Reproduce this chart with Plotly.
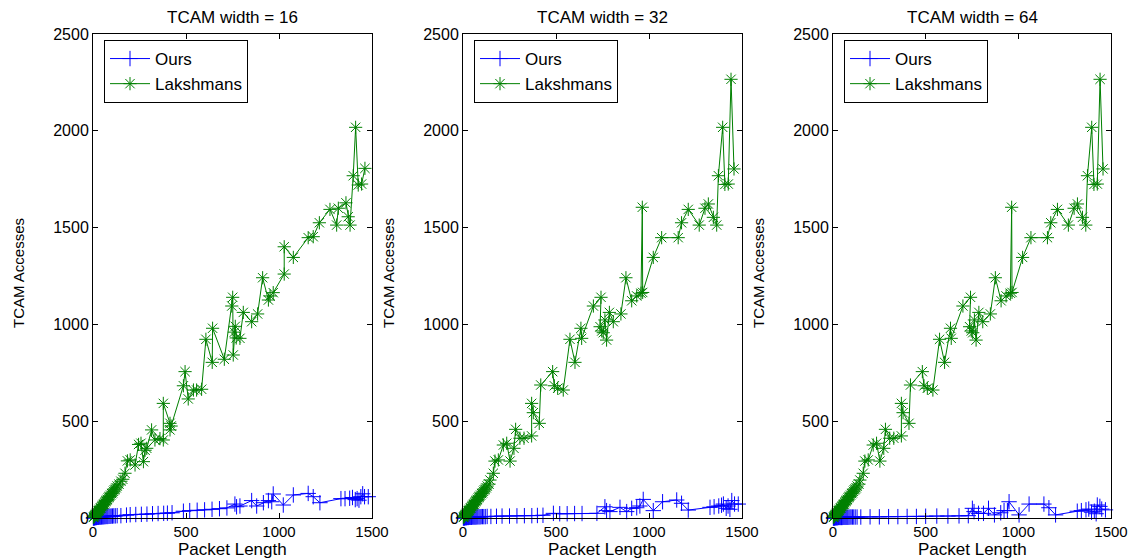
import plotly.graph_objects as go

# ---------------- data ----------------
widths = [16, 32, 64]
x_ticks = [0, 500, 1000, 1500]
y_ticks = [0, 500, 1000, 1500, 2000, 2500]

# Panel 1 (TCAM width = 16)
lak16_x = [2, 5, 8, 10, 12, 15, 18, 20, 22, 25, 28, 30, 33, 36, 40, 43, 46, 50, 53, 56, 60, 63, 66, 70,
           74, 78, 82, 86, 90, 95, 100, 105, 110, 115, 120, 125, 130, 140, 150, 160,
           172, 185, 200, 226, 245, 258, 271, 280, 289, 315, 333, 360, 378, 378, 414, 414, 420,
           486, 495, 512, 540, 557, 584, 607, 641, 643, 706, 746, 751, 754, 760, 765, 770, 790,
           808, 853, 885, 912, 943, 952, 969, 1028, 1028, 1077, 1157, 1184, 1217, 1274, 1310,
           1319, 1360, 1372, 1382, 1399, 1412, 1426, 1444, 1462]
lak16_y = [3, 6, 10, 12, 16, 18, 22, 25, 28, 30, 35, 38, 40, 45, 50, 52, 58, 62, 66, 70, 72, 78, 84, 88,
           92, 96, 104, 108, 112, 118, 126, 130, 138, 145, 150, 156, 165, 175, 190, 200,
           231, 295, 300, 274, 380, 386, 291, 350, 360, 455, 403, 410, 403, 592, 489, 455, 475,
           683, 756, 615, 661, 661, 665, 923, 804, 980, 820, 1095, 1140, 842, 960, 990, 930, 928,
           1062, 1014, 1054, 1241, 1126, 1147, 1164, 1260, 1401, 1346, 1448, 1453, 1525, 1594, 1513,
           1600, 1628, 1556, 1513, 1768, 2018, 1720, 1725, 1806]
ours16_x = [2, 4, 6, 8, 10, 12, 15, 18, 20, 23, 26, 30, 34, 38, 42, 46, 50, 55, 60, 65, 70, 75, 80,
            86, 92, 98, 105, 112, 120, 130, 150, 180, 200, 230, 260, 290, 320, 350, 380, 400, 425,
            486, 520, 560, 600, 640, 680, 720, 763, 772, 790, 853, 880, 916, 943, 961, 969, 1023,
            1077, 1157, 1184, 1220, 1333, 1355, 1380, 1395, 1410, 1420, 1430, 1440, 1450, 1460, 1480]
ours16_y = [0, 1, 1, 2, 2, 2, 3, 3, 3, 4, 4, 4, 5, 5, 5, 6, 6, 6, 7, 7, 8, 8, 8,
            9, 9, 10, 10, 11, 11, 12, 12, 15, 17, 18, 19, 20, 22, 23, 24, 25, 27,
            35, 38, 40, 42, 45, 48, 52, 72, 58, 62, 90, 62, 79, 90, 84, 124, 67,
            119, 127, 110, 79, 100, 100, 102, 106, 95, 100, 92, 110, 125, 110, 110]

# Panels 2 and 3 (TCAM width = 32, 64)
lak_x = [2, 5, 8, 10, 12, 15, 18, 20, 22, 25, 28, 30, 33, 36, 40, 43, 46, 50, 53, 56, 60, 63, 66, 70,
         74, 78, 82, 86, 90, 95, 100, 105, 110, 115, 120, 125, 130, 140, 145,
         163, 172, 190, 217, 235, 253, 274, 283, 306, 328, 369, 369, 378, 410, 418, 482, 491, 509,
         539, 575, 602, 634, 638, 701, 742, 737, 746, 754, 763, 772, 787, 808, 849, 876, 907, 934,
         957, 964, 966, 1023, 1068, 1157, 1175, 1211, 1270, 1301, 1319, 1346, 1364, 1373, 1396,
         1408, 1426, 1441, 1457]
lak_y = [3, 6, 10, 12, 16, 18, 22, 25, 28, 30, 35, 38, 40, 45, 50, 52, 58, 62, 66, 70, 72, 78, 84, 88,
         92, 96, 104, 108, 112, 118, 126, 130, 138, 145, 150, 156, 165, 175, 196,
         231, 294, 300, 377, 386, 294, 360, 458, 412, 412, 424, 592, 544, 489, 687, 756, 683, 670,
         661, 923, 804, 980, 928, 1095, 1140, 988, 966, 957, 1023, 919, 1062, 1014, 1054, 1241, 1122, 1147,
         1161, 1605, 1165, 1346, 1448, 1448, 1525, 1594, 1513, 1600, 1622, 1553, 1513, 1768, 2018,
         1723, 1725, 2266, 1803]
ours32_x = [2, 4, 6, 8, 10, 12, 15, 18, 20, 23, 26, 30, 34, 38, 42, 46, 50, 55, 60, 65, 70, 75, 80,
            86, 92, 98, 105, 112, 120, 130, 150, 180, 210, 250, 290, 330, 370, 400, 430,
            486, 520, 560, 600, 640, 720, 763, 772, 790, 844, 880, 907, 934, 951, 969, 1023, 1073,
            1149, 1175, 1211, 1328, 1350, 1375, 1390, 1400, 1415, 1425, 1435, 1445, 1460, 1480]
ours32_y = [0, 1, 1, 1, 2, 2, 2, 2, 3, 3, 3, 3, 4, 4, 4, 4, 5, 5, 5, 5, 5, 6, 6,
            6, 6, 7, 7, 7, 7, 8, 8, 9, 10, 10, 11, 12, 12, 13, 14,
            24, 22, 22, 23, 23, 24, 58, 38, 33, 55, 33, 50, 53, 62, 96, 38, 84,
            93, 76, 41, 55, 58, 62, 66, 72, 50, 62, 45, 90, 72, 72]
ours64_x = [2, 4, 6, 8, 10, 12, 15, 18, 20, 23, 26, 30, 34, 38, 42, 46, 50, 55, 60, 65, 70, 75, 80,
            86, 92, 98, 105, 112, 120, 130, 150, 200, 250, 300, 350, 400, 450, 500, 560, 620, 680,
            730, 752, 761, 785, 812, 839, 871, 905, 923, 941, 950, 1004, 1058, 1138, 1165, 1201,
            1318, 1340, 1365, 1380, 1395, 1410, 1420, 1426, 1440, 1450, 1470]
ours64_y = [0, 0, 1, 1, 1, 1, 2, 2, 2, 2, 2, 3, 3, 3, 3, 3, 3, 4, 4, 4, 4, 4, 4,
            4, 5, 5, 5, 5, 5, 5, 5, 6, 6, 7, 7, 8, 8, 9, 10, 10, 11,
            12, 50, 33, 24, 24, 50, 16, 27, 38, 38, 84, 16, 72, 72, 53, 16,
            35, 38, 42, 46, 30, 35, 22, 67, 60, 46, 42]

ours_x = [ours16_x, ours32_x, ours64_x]
ours_y = [ours16_y, ours32_y, ours64_y]
laks_x = [lak16_x, lak_x, lak_x]
laks_y = [lak16_y, lak_y, lak_y]

# ---------------- figure ----------------
W, H = 1138, 558
FONT = "Liberation Sans, Arial, sans-serif"
BLUE = "rgb(0,0,255)"
GREEN = "rgb(0,128,0)"

x_px = [(93, 372), (463, 742), (833, 1111)]
y_px = (34, 518)
ydom = [1 - y_px[1] / H, 1 - y_px[0] / H]

fig = go.Figure()
annotations = []
for i in range(3):
    n = "" if i == 0 else str(i + 1)
    xa, ya = "x" + n, "y" + n
    lg = "legend" + n
    fig.add_trace(go.Scatter(
        x=ours_x[i], y=ours_y[i], name="Ours", mode="lines+markers",
        xaxis=xa, yaxis=ya, legend=lg, cliponaxis=False,
        line=dict(color=BLUE, width=1),
        marker=dict(symbol="cross-thin-open", size=11, line=dict(color=BLUE, width=1), color=BLUE)))
    fig.add_trace(go.Scatter(
        x=laks_x[i], y=laks_y[i], name="Lakshmans", mode="lines+markers",
        xaxis=xa, yaxis=ya, legend=lg, cliponaxis=False,
        line=dict(color=GREEN, width=1),
        marker=dict(symbol="asterisk-open", size=11, line=dict(color=GREEN, width=1), color=GREEN)))

    dom = [x_px[i][0] / W, x_px[i][1] / W]
    axis_common = dict(showline=True, linecolor="black", linewidth=1, mirror="ticks",
                       ticks="inside", ticklen=5, tickcolor="black", showgrid=False,
                       zeroline=False, automargin=False)
    fig.update_layout(**{
        ("xaxis" + n): dict(domain=dom, range=[0, 1500], tickvals=x_ticks, anchor=ya,
                            tickfont=dict(family=FONT, size=15, color="black"), **axis_common),
        ("yaxis" + n): dict(domain=ydom, range=[0, 2500], tickvals=y_ticks, anchor=xa,
                            tickfont=dict(family=FONT, size=16, color="black"), **axis_common),
        lg: dict(x=(x_px[i][0] + 11) / W, y=1 - 40 / H, xanchor="left", yanchor="top",
                 bordercolor="black", borderwidth=1, bgcolor="white",
                 font=dict(family=FONT, size=17, color="black"),
                 tracegroupgap=0, itemwidth=40),
    })
    cx = (x_px[i][0] + x_px[i][1]) / 2
    annotations.append(dict(text="TCAM width = %d" % widths[i], x=cx / W, y=1 - 17 / H,
                            xref="paper", yref="paper", showarrow=False,
                            xanchor="center", yanchor="middle",
                            font=dict(family=FONT, size=17, color="black")))
    annotations.append(dict(text="Packet Length", x=cx / W, y=1 - 549 / H,
                            xref="paper", yref="paper", showarrow=False,
                            xanchor="center", yanchor="middle",
                            font=dict(family=FONT, size=17, color="black")))
    annotations.append(dict(text="TCAM Accesses", x=(x_px[i][0] - 75) / W, y=1 - 273 / H,
                            xref="paper", yref="paper", showarrow=False, textangle=-90,
                            xanchor="center", yanchor="middle",
                            font=dict(family=FONT, size=15, color="black")))

fig.update_layout(width=W, height=H, margin=dict(l=0, r=0, t=0, b=0, pad=0, autoexpand=False),
                  paper_bgcolor="white", plot_bgcolor="white",
                  annotations=annotations, showlegend=True)
fig.write_html("out.html")
